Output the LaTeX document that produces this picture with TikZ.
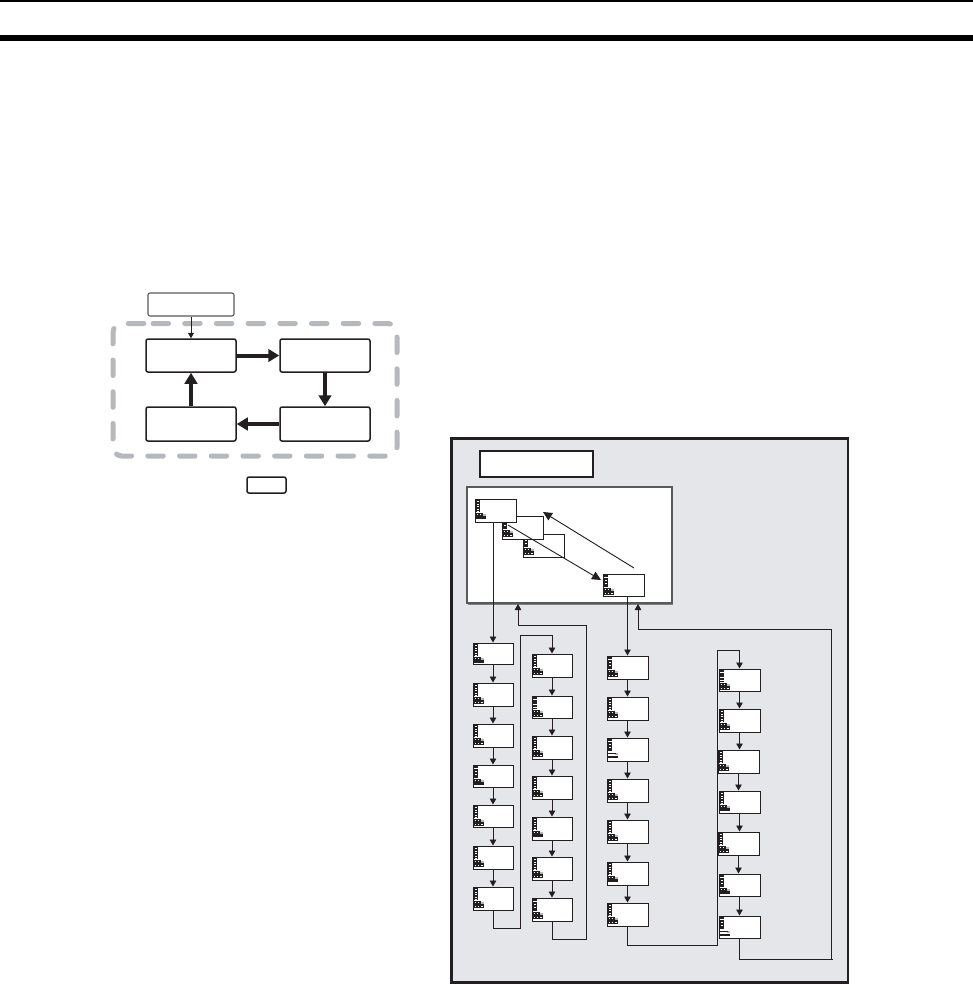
\documentclass[tikz,border=0pt]{standalone}
\usetikzlibrary{arrows.meta,calc}
\definecolor{ink}{HTML}{231F20}
\definecolor{panel}{HTML}{E5E6EA}
\definecolor{dashgray}{HTML}{B5B8BC}
\definecolor{edgegray}{HTML}{58595B}
\tikzset{
  x=1pt,y=-1pt,
  flowbox/.style={draw=ink,line width=1.5pt,rounded corners=2pt,fill=white,inner sep=0pt},
  startbox/.style={flowbox,draw=edgegray,line width=1.1pt},
  screen/.style={draw=ink,line width=1pt,fill=white,inner sep=0pt},
  conn/.style={draw=ink,line width=0.9pt,-{Triangle[length=6pt,width=6.5pt]}},
  plain/.style={draw=ink,line width=0.9pt},
  heavy/.style={draw=ink,line width=4pt,-{Triangle[length=11pt,width=12.5pt]}},
}
% rectangle node from corners
\newcommand{\rnode}[6]{%
  \pgfmathsetmacro{\rw}{#5-#3}\pgfmathsetmacro{\rh}{#6-#4}%
  \pgfmathsetmacro{\rx}{(#3+#5)/2}\pgfmathsetmacro{\ry}{(#4+#6)/2}%
  \node[#1,minimum width=\rw pt,minimum height=\rh pt] (#2) at (\rx,\ry) {};}
% top part of the icon: s stack, d solid block, e stripes
\newcommand{\icontop}[3]{%
  \begin{scope}[shift={(#1,#2)}]
  \ifx#3s
    \fill[ink] (0.5,1.2) rectangle (5.2,13.4);
    \foreach \k in {0,1,2,3,4}{\fill[white] (1.8,2.4+2.4*\k) rectangle (3.6,3.2+2.4*\k);}
  \fi
  \ifx#3d
    \fill[ink] (0.5,1.2) rectangle (5.2,3);
    \fill[ink] (0.5,4.4) rectangle (5.2,13.4);
    \fill[white] (1.8,5.6) rectangle (3.6,7.2);
    \fill[white] (1.8,8.8) rectangle (3.6,10.4);
  \fi
  \ifx#3e
    \foreach \k in {0,1,2,3,4}{\fill[ink] (0.5,1.2+2.6*\k) rectangle (5.2,3+2.6*\k);}
  \fi
  \end{scope}}
% bottom part of the icon: g grid, b grid with bar, a two bars
\newcommand{\iconbottom}[3]{%
  \begin{scope}[shift={(#1,#2)}]
  \fill[dashgray] (8,14.6) rectangle (11,17);
  \ifx#3a
    \fill[ink] (0.5,14.6) rectangle (8.5,16.4);
    \fill[ink] (0.5,17.6) rectangle (11,19.8);
  \else
    \fill[ink] (0.5,14.4) rectangle (8.2,17.4);
    \foreach \k in {0,1}{\fill[white] (1.5+3*\k,15.4) rectangle (3.1+3*\k,16.3);}
    \ifx#3b
      \fill[ink] (0.5,17.4) rectangle (11,19.8);
    \else
      \fill[ink] (0.5,17.4) rectangle (11,20.9);
      \foreach \k in {0,1,2}{\fill[white] (1.5+3.2*\k,18.5) rectangle (3.2+3.2*\k,19.7);}
    \fi
  \fi
  \end{scope}}
% screen node with its icon
\newcommand{\scr}[7]{%
  \rnode{screen}{#1}{#2}{#3}{#4}{#5}%
  \icontop{#2}{#3}{#6}\iconbottom{#2}{#3}{#7}}
\begin{document}
\begin{tikzpicture}
\useasboundingbox (0,0) rectangle (973,985);
\fill[white] (0,0) rectangle (973,985);
% page header rules
\fill[black] (0,0) rectangle (973,2);
\fill[black] (0,35) rectangle (973,41);

% left cycle
\draw[dashgray,line width=5pt,rounded corners=9pt,dash pattern=on 15.5pt off 16.2pt,line cap=round]
  (144,323.5) -- (397,323.5) -- (397,456) -- (113,456) -- (113,323.5) -- cycle;
\rnode{startbox}{ls}{148}{293}{234}{316}
\rnode{flowbox}{la}{146}{339}{236}{372}
\rnode{flowbox}{lb}{280}{339}{370}{372}
\rnode{flowbox}{lc}{146}{407}{236}{441}
\rnode{flowbox}{ld}{280}{407}{370}{441}
\rnode{flowbox}{lk}{247}{477}{286}{493}
\draw[draw=ink,line width=0.9pt,-{Triangle[length=5.5pt,width=6pt]}] (ls.south -| la.north) -- (la.north);
\draw[heavy] (la.east) -- (lb.west);
\draw[heavy] (lb.south) -- (ld.north);
\draw[heavy,line width=3.2pt] (ld.west) -- (lc.east);
\draw[heavy] (lc.north) -- (la.south);

% right panel
\rnode{draw=ink,line width=2.2pt,fill=panel,inner sep=0pt}{panel}{451.5}{438.5}{848}{982.5}
\rnode{draw=ink,line width=2.2pt,fill=white,inner sep=0pt}{title}{480}{451}{593}{477}
\draw[gray,line width=1pt] (467.5,604) -- (672.5,604);
\rnode{draw=edgegray,line width=1.1pt,fill=white,inner sep=0pt}{group}{467}{487}{672}{603}

% screens in the group
\scr{s3}{523}{534}{564}{557}{d}{g}
\scr{s2}{502}{516}{543}{539}{d}{g}
\scr{s1}{475}{499}{516}{522}{s}{b}
\scr{s4}{603}{574}{644}{596}{d}{g}

% column 1
\scr{aa}{473}{643}{513}{664}{s}{b}
\scr{ab}{473}{683}{513}{706}{s}{g}
\scr{ac}{473}{724}{513}{747}{s}{g}
\scr{ad}{473}{765}{513}{787}{d}{b}
\scr{ae}{473}{805}{513}{827}{s}{g}
\scr{af}{473}{846}{513}{869}{s}{g}
\scr{ag}{473}{887}{513}{910}{s}{g}
% column 2
\scr{ba}{532}{654}{572}{677}{s}{g}
\scr{bb}{532}{696}{572}{718}{e}{g}
\scr{bc}{532}{736}{572}{759}{s}{g}
\scr{bd}{532}{776}{572}{799}{s}{g}
\scr{be}{532}{817}{572}{840}{s}{b}
\scr{bf}{532}{857}{572}{880}{s}{g}
\scr{bg}{532}{898}{572}{921}{d}{g}
% column 3
\scr{ca}{607}{656}{648}{679}{d}{g}
\scr{cb}{607}{697}{648}{720}{s}{g}
\scr{cc}{607}{738}{648}{761}{d}{a}
\scr{cd}{607}{779}{648}{802}{s}{g}
\scr{ce}{607}{820}{648}{843}{s}{g}
\scr{cf}{607}{862}{648}{885}{s}{b}
\scr{cg}{607}{903}{648}{926}{s}{g}
% column 4
\scr{da}{719}{669}{760}{691}{e}{g}
\scr{db}{719}{709}{760}{732}{s}{g}
\scr{dc}{718}{750}{759}{773}{s}{g}
\scr{dd}{719}{791}{760}{813}{s}{b}
\scr{de}{718}{832}{759}{855}{s}{g}
\scr{df}{719}{874}{760}{896}{d}{b}
\scr{dg}{719}{916}{760}{938}{d}{a}

% diagonal arrows in the group
\coordinate (dg1) at (508,525);
\coordinate (dg2) at (601,580);
\coordinate (dg3) at (634,568);
\coordinate (dg4) at (543,512);
\draw[plain,-{Triangle[length=9pt,width=8.5pt]}] (dg1) -- (dg2);
\draw[plain,-{Triangle[length=9pt,width=8.5pt]}] (dg3) -- (dg4);

% columns
\draw[conn] (aa.north |- s1.south) -- (aa.north);
\draw[conn] (ca.north |- s4.south) -- (ca.north);
\foreach \p/\q in {aa/ab,ab/ac,ac/ad,ad/ae,ae/af,af/ag,
                   ba/bb,bb/bc,bc/bd,bd/be,be/bf,bf/bg,
                   ca/cb,cb/cc,cc/cd,cd/ce,ce/cf,cf/cg,
                   da/db,db/dc,dc/dd,dd/de,de/df,df/dg}{
  \draw[conn] (\p.south) -- (\p.south |- \q.north);
}
% loops
\draw[conn] (ag.south) |- (520,928) |- (552,635) -- (ba.north);
\draw[conn] (bg.south) |- (586,939) |- (518,625) -- (518,604);
\draw[conn] (cg.south) |- (717,945) |- (739.5,650) -- (da.north);
\draw[conn] (dg.south) |- (831,959) |- (638,629) -- (638,604);
\draw[plain] (831,959) -- (833,959);
\end{tikzpicture}
\end{document}
